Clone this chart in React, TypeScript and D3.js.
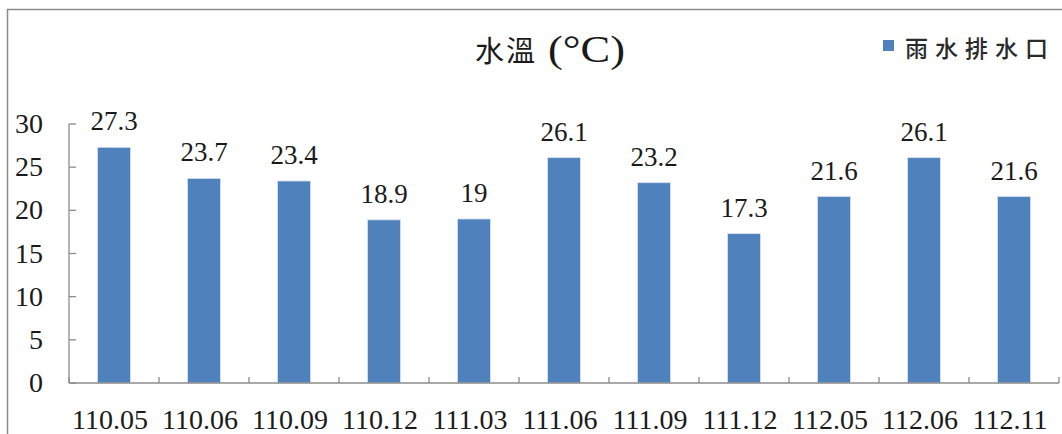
import React from "react";
import * as d3 from "d3";

// Sampling periods (ROC year.month) and water temperature at the storm-drain outlet
const periods = ["110.05", "110.06", "110.09", "110.12", "111.03", "111.06", "111.09", "111.12", "112.05", "112.06", "112.11"];
const temperatures = [27.3, 23.7, 23.4, 18.9, 19, 26.1, 23.2, 17.3, 21.6, 26.1, 21.6];
const yTicks = [0, 5, 10, 15, 20, 25, 30];
const seriesName = "雨水排水口";

const W = 1062;
const H = 434;
const plot = { left: 69, right: 1059, top: 124, bottom: 383 };
const BAR = "#4f81bd";
const AXIS = "#8c8c8c";
const TEXT = "#1a1a1a";
const SERIF = "'Liberation Serif', 'Times New Roman', serif";
const CJK = "'Noto Sans CJK TC', 'Noto Sans CJK SC', sans-serif";

export default function App() {
  const x = d3.scaleBand<string>().domain(periods).range([plot.left, plot.right]).paddingInner(0.635).paddingOuter(0.3175);
  const band = d3.scaleBand<string>().domain(periods).range([plot.left, plot.right]);
  const y = d3.scaleLinear().domain([0, 30]).range([plot.bottom, plot.top]);

  const boundaries = d3.range(periods.length + 1).map((i) => plot.left + i * band.step());

  return (
    <svg width={W} height={H} style={{ position: "fixed", left: 0, top: 0, background: "#fff" }}>
      <rect x={0} y={0} width={W} height={H} fill="#fff" />
      {/* chart frame (its right and bottom edges fall outside the view) */}
      <path d={`M7.5,${H} V9.5 H${W}`} fill="none" stroke="#8a8a8a" strokeWidth={1.5} />

      {/* title */}
      <text y={62} fill={TEXT}>
        <tspan x={475} fontFamily={CJK} fontSize={29} letterSpacing={2}>水溫</tspan>
        <tspan x={548} fontFamily={SERIF} fontSize={38} textLength={77} lengthAdjust="spacingAndGlyphs">(°C)</tspan>
      </text>

      {/* legend */}
      <rect x={883} y={40} width={11} height={11} fill={BAR} />
      <text x={905} y={47} dominantBaseline="central" fontFamily={CJK} fontSize={23} fontWeight={500} letterSpacing={7} fill="#2a2a2a">
        {seriesName}
      </text>

      {/* bars */}
      {periods.map((p, i) => (
        <rect key={p} x={x(p)} y={y(temperatures[i])} width={x.bandwidth()} height={y(0) - y(temperatures[i])} fill={BAR} stroke="#d6e0ee" strokeWidth={0.8} />
      ))}

      {/* value labels */}
      {periods.map((p, i) => (
        <text key={p} x={band(p)! + band.bandwidth() / 2} y={y(temperatures[i]) - 17} textAnchor="middle" fontFamily={SERIF} fontSize={27} fill={TEXT}>
          {String(temperatures[i])}
        </text>
      ))}

      {/* y axis */}
      <line x1={plot.left} x2={plot.left} y1={y(30)} y2={y(0)} stroke={AXIS} strokeWidth={1.3} />
      {yTicks.map((t) => (
        <g key={t}>
          <line x1={plot.left} x2={plot.left + 7} y1={y(t)} y2={y(t)} stroke={AXIS} strokeWidth={1.3} />
          <text x={43} y={y(t) + 9} textAnchor="end" fontFamily={SERIF} fontSize={28} fill={TEXT}>
            {t}
          </text>
        </g>
      ))}

      {/* x axis */}
      <line x1={plot.left} x2={plot.right} y1={y(0)} y2={y(0)} stroke={AXIS} strokeWidth={1.3} />
      {boundaries.map((bx, i) => (
        <line key={i} x1={bx} x2={bx} y1={y(0)} y2={y(0) - 6} stroke={AXIS} strokeWidth={1.3} />
      ))}
      {periods.map((p) => (
        <text key={p} x={band(p)! + band.bandwidth() / 2 - 4} y={429} textAnchor="middle" fontFamily={SERIF} fontSize={28} fill={TEXT}>
          {p}
        </text>
      ))}
    </svg>
  );
}
